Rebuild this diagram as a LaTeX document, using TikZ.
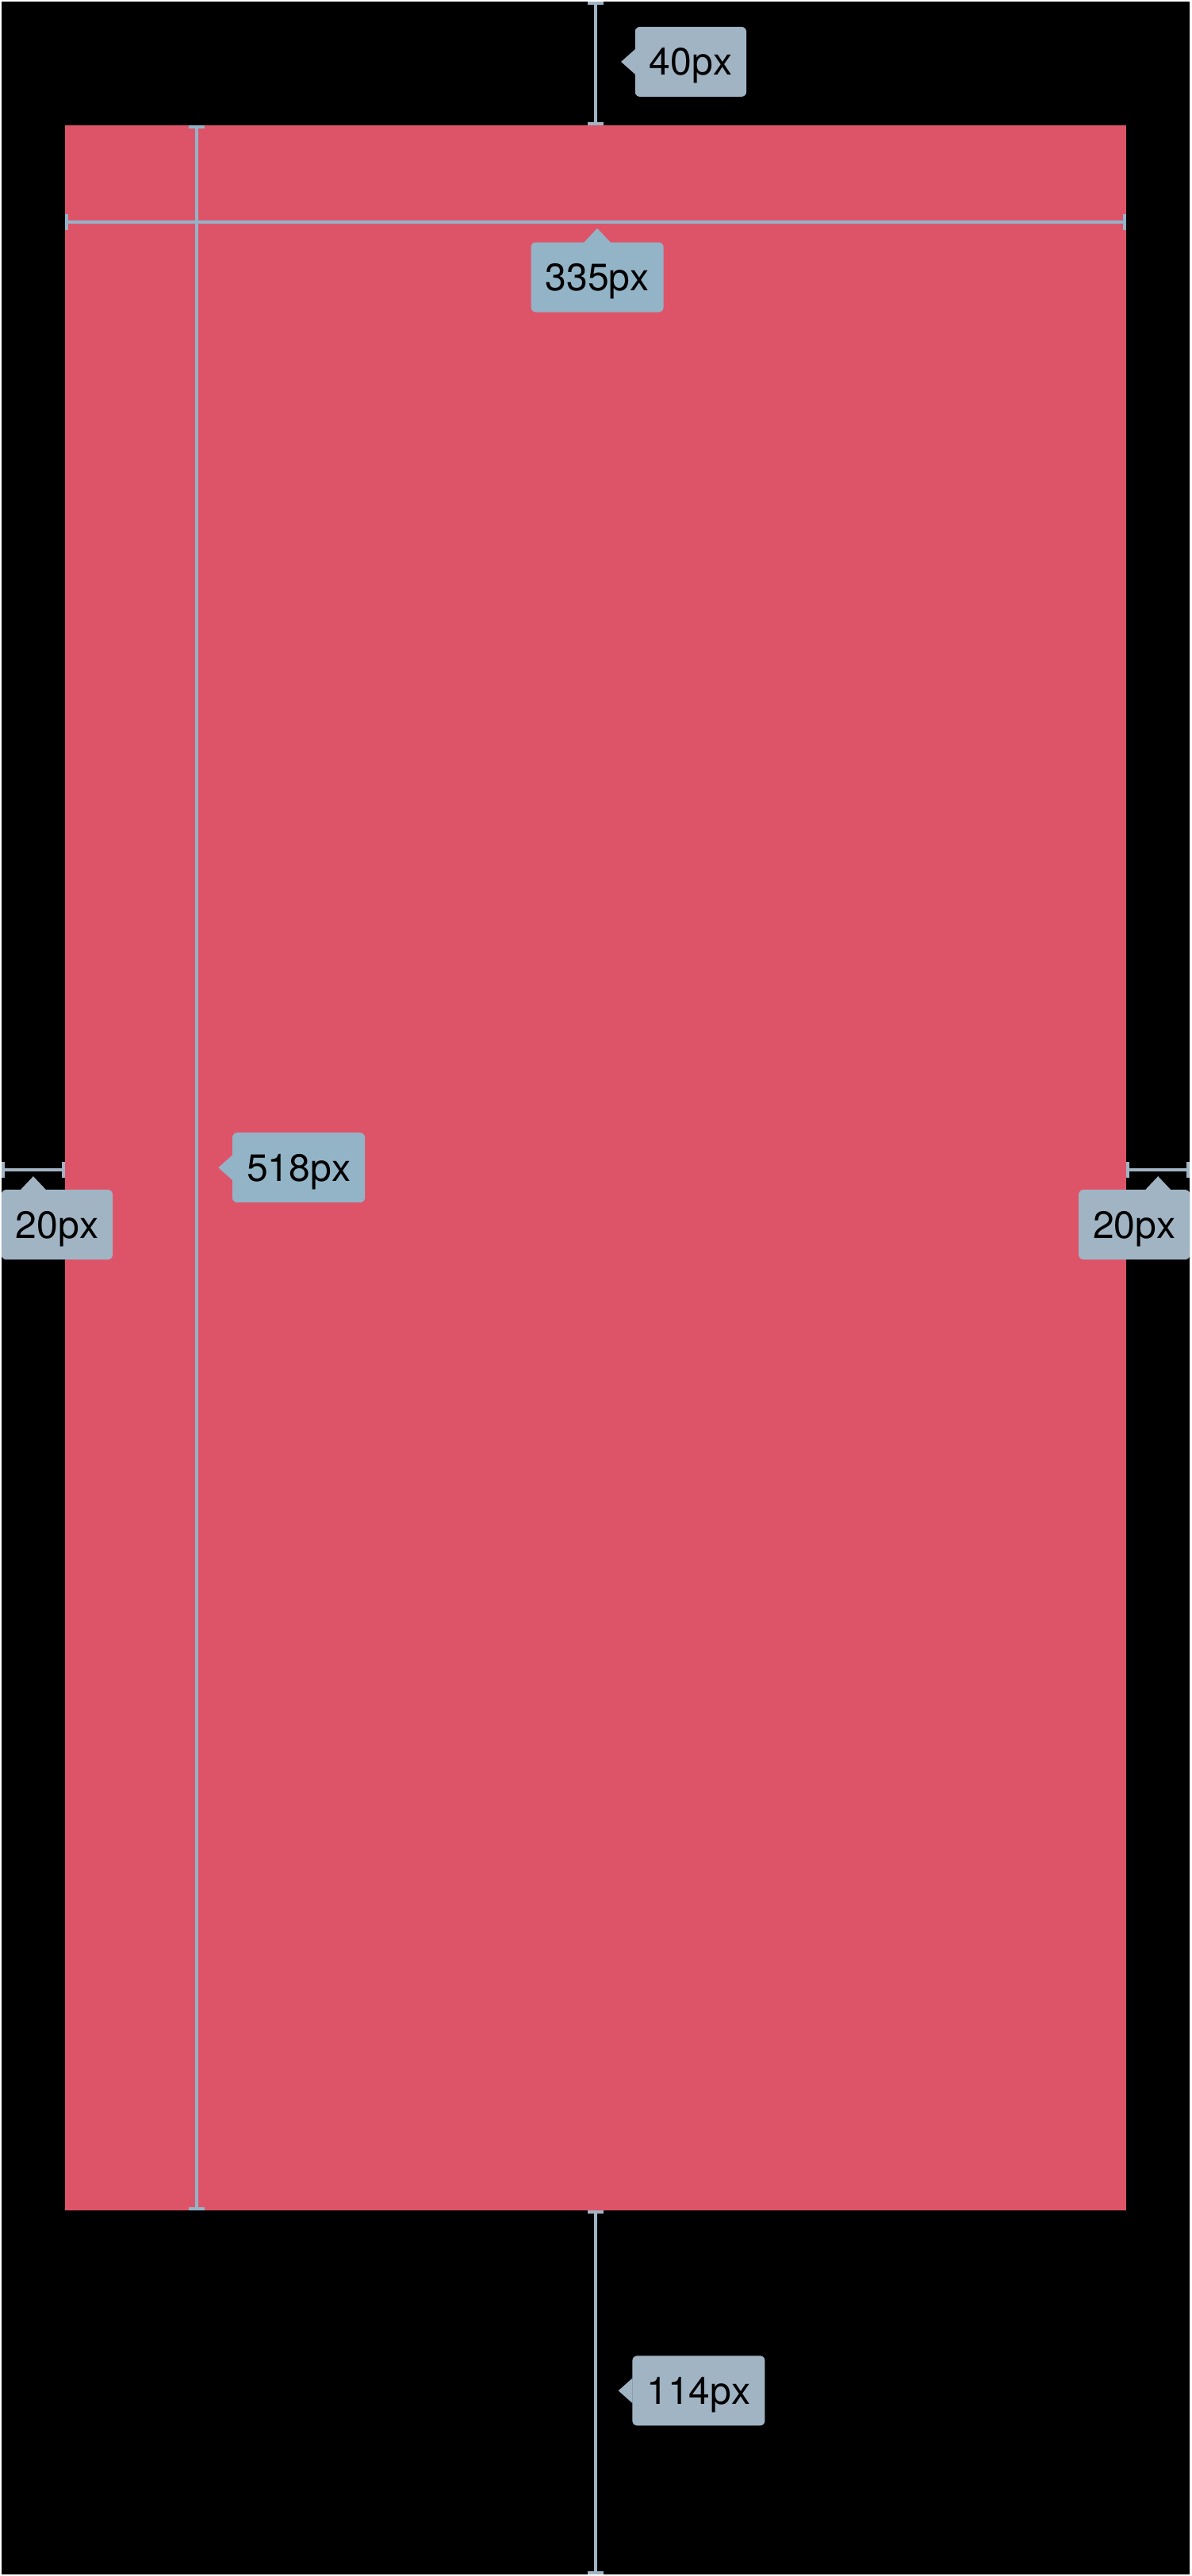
\documentclass[tikz,border=0pt]{standalone}
\usepackage{fontspec}
\setmainfont{TeX Gyre Heros}
\usetikzlibrary{arrows.meta}

\definecolor{panelred}{HTML}{DD5469}
\definecolor{tagout}{HTML}{A1B4C4}
\definecolor{tagin}{HTML}{93B4C7}

\tikzset{
  dimline/.style={draw=#1,line width=0.04cm,
    {Bar[width=0.2cm,line width=0.04cm]}-{Bar[width=0.2cm,line width=0.04cm]}},
  dimtag/.style={fill=#1,rounded corners=0.06cm,inner xsep=0.18cm,inner ysep=0pt,
    minimum height=0.88cm,text depth=0pt,text=black,
    font=\fontsize{13.7pt}{16pt}\selectfont}
}

\begin{document}
\begin{tikzpicture}[x=0.01cm,y=-0.01cm]
      % canvas and panel
      \fill[black] (0,0) rectangle (1500,3248);
      \fill[panelred] (80,156) rectangle (1420,2788);

      % end points of the measures
      \coordinate (topA) at (750,0);
      \coordinate (topB) at (750,156);
      \coordinate (widA) at (80,278);
      \coordinate (widB) at (1420,278);
      \coordinate (heiA) at (246,156);
      \coordinate (heiB) at (246,2788);
      \coordinate (lefA) at (0,1475);
      \coordinate (lefB) at (80,1475);
      \coordinate (rigA) at (1420,1475);
      \coordinate (rigB) at (1500,1475);
      \coordinate (botA) at (750,2788);
      \coordinate (botB) at (750,3248);

      \draw[dimline=tagout] (topA) -- (topB);
      \draw[dimline=tagin] (heiA) -- (heiB);
      \draw[dimline=tagin] (widA) -- (widB);
      \draw[dimline=tagout] (lefA) -- (lefB);
      \draw[dimline=tagout] (rigA) -- (rigB);
      \draw[dimline=tagout] (botA) -- (botB);

      % labels
      \node[dimtag=tagout] (tagTop) at (870,76) {40px};
      \node[dimtag=tagin] (tagWid) at (752,348) {335px};
      \node[dimtag=tagin] (tagHei) at (375,1472) {518px};
      \node[dimtag=tagout] (tagLef) at (70,1544) {20px};
      \node[dimtag=tagout] (tagRig) at (1430,1544) {20px};
      \node[dimtag=tagout] (tagBot) at (880,3016) {114px};

      % pointers of the labels
      \fill[tagout] (tagTop.west) ++(1,-16) -- ++(-18,16) -- ++(18,16) -- cycle;
      \fill[tagin] (tagWid.north) ++(-17,1) -- ++(17,-18) -- ++(17,18) -- cycle;
      \fill[tagin] (tagHei.west) ++(1,-16) -- ++(-18,16) -- ++(18,16) -- cycle;
      \fill[tagout] (40,1501) ++(-17,0) -- ++(17,-18) -- ++(17,18) -- cycle;
      \fill[tagout] (1460,1501) ++(-17,0) -- ++(17,-18) -- ++(17,18) -- cycle;
      \fill[tagout] (tagBot.west) ++(1,-16) -- ++(-18,16) -- ++(18,16) -- cycle;
\end{tikzpicture}
\end{document}
